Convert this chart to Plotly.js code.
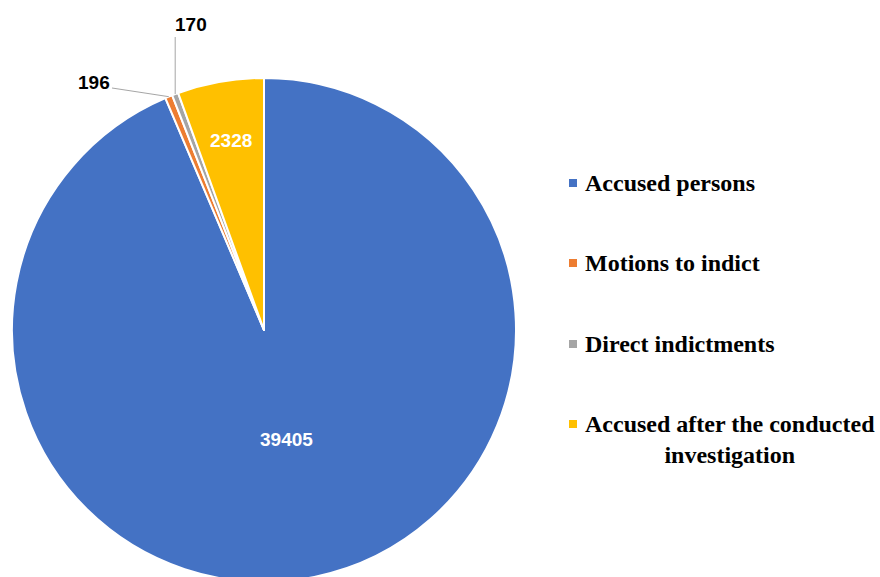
<!DOCTYPE html>
<html><head><meta charset="utf-8">
<script src="https://cdn.plot.ly/plotly-3.0.1.min.js"></script>
<style>html,body{margin:0;padding:0;overflow:hidden;background:#fff}</style>
</head><body><div id="chart" style="width:880px;height:585px"></div>
<script>
const categories = ['Accused persons','Motions to indict','Direct indictments','Accused after the conducted investigation'];
const legendLabels = ['Accused persons','Motions to indict','Direct indictments','Accused after the conducted<br>investigation'];
const values = [39405, 196, 170, 2328];
const colors = ['#4472C4','#ED7D31','#A5A5A5','#FFC000'];

const W = 880, H = 585, cx = 264, cy = 330, R = 252;
const total = values.reduce((a, b) => a + b, 0);
let cum = 0; const mids = [];
values.forEach(v => { mids.push((cum + v / 2) / total * 2 * Math.PI); cum += v; });
function pt(i, r) { const a = mids[i]; return [cx + r * Math.sin(a), cy - r * Math.cos(a)]; }
const px = x => x / W, py = y => 1 - y / H;

const labelFont = {family: 'Liberation Sans', size: 19, color: '#000', weight: 'bold'};
const insideFont = {family: 'Liberation Sans', size: 19, color: '#fff', weight: 'bold'};
const legFont = {family: 'Liberation Serif', size: 24, color: '#000', weight: 'bold'};

const trace = {
  type: 'pie',
  labels: categories,
  values: values,
  sort: false,
  direction: 'clockwise',
  rotation: 0,
  marker: {colors: colors, line: {color: '#fff', width: 2}},
  textinfo: 'none',
  hoverinfo: 'label+value',
  domain: {x: [12 / W, 516 / W], y: [3 / H, 507 / H]},
  showlegend: false
};

const annotations = [];
const shapes = [];

// inside labels, placed along each slice's middle angle
[[0, 112], [3, 192]].forEach(([i, r]) => {
  const p = pt(i, r);
  annotations.push({xref: 'paper', yref: 'paper', x: px(p[0]), y: py(p[1]), text: String(values[i]),
    showarrow: false, xanchor: 'center', yanchor: 'middle', font: insideFont});
});

// outside labels with leader lines for the small slices
const p1 = pt(1, R);
annotations.push({xref: 'paper', yref: 'paper', x: px(94), y: py(83), text: String(values[1]),
  showarrow: false, xanchor: 'center', yanchor: 'middle', font: labelFont});
shapes.push({type: 'line', xref: 'paper', yref: 'paper', x0: px(112), y0: py(88), x1: px(p1[0]), y1: py(p1[1]),
  line: {color: '#A6A6A6', width: 1}});
const p2 = pt(2, R);
annotations.push({xref: 'paper', yref: 'paper', x: px(191), y: py(25), text: String(values[2]),
  showarrow: false, xanchor: 'center', yanchor: 'middle', font: labelFont});
shapes.push({type: 'line', xref: 'paper', yref: 'paper', x0: px(p2[0]), y0: py(37), x1: px(p2[0]), y1: py(p2[1]),
  line: {color: '#A6A6A6', width: 1}});

// legend
const rowY = [183, 263, 344, 424];
legendLabels.forEach((lab, i) => {
  shapes.push({type: 'rect', xref: 'paper', yref: 'paper', x0: px(569), x1: px(577), y0: py(rowY[i] - 4), y1: py(rowY[i] + 4),
    fillcolor: colors[i], line: {width: 0}});
  const multi = lab.indexOf('<br>') >= 0;
  annotations.push({xref: 'paper', yref: 'paper', x: px(583), y: py(multi ? rowY[i] + 15 : rowY[i]), text: lab,
    showarrow: false, xanchor: 'left', yanchor: 'middle', align: 'center', font: legFont});
});

const layout = {
  width: W, height: H,
  margin: {l: 0, r: 0, t: 0, b: 0},
  paper_bgcolor: '#fff',
  showlegend: false,
  annotations: annotations,
  shapes: shapes
};
Plotly.newPlot('chart', [trace], layout, {displayModeBar: false, staticPlot: true});
</script>
</body></html>
